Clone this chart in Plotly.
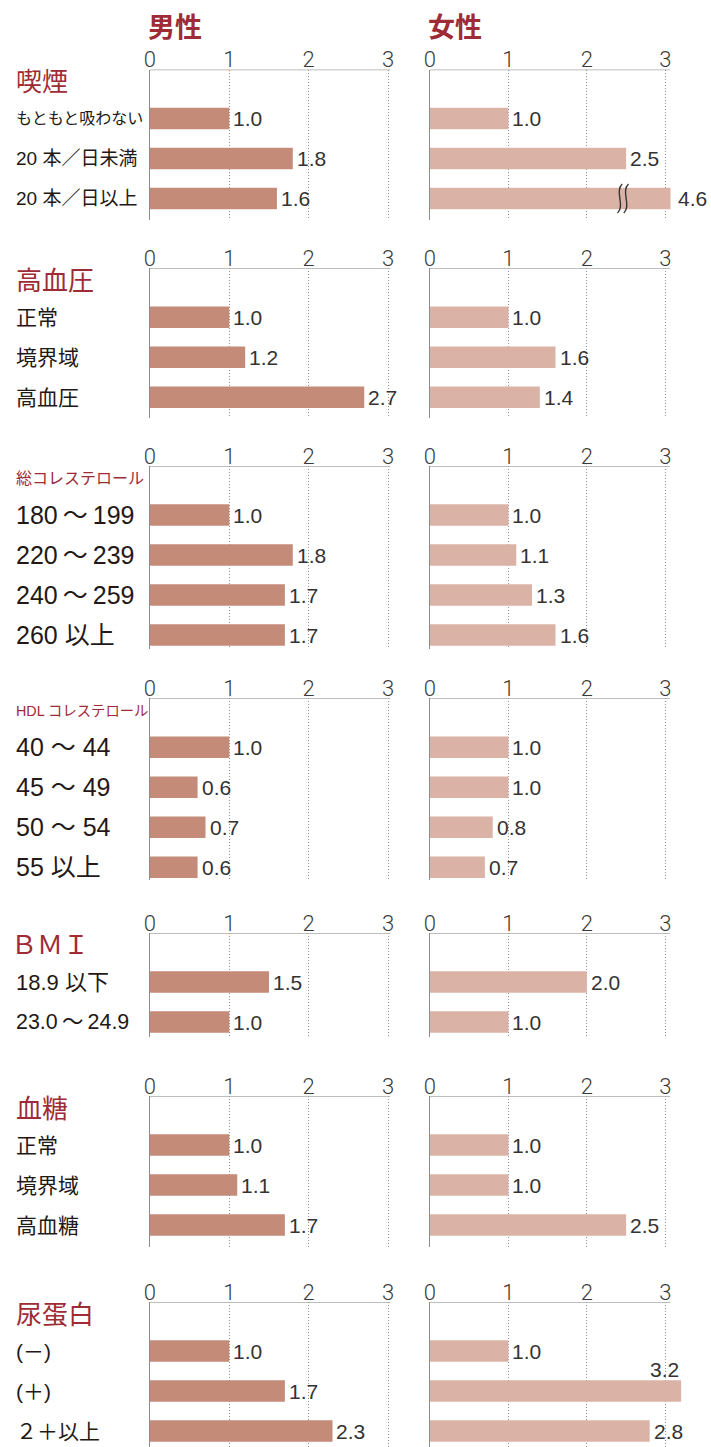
import plotly.graph_objects as go

# ---------------- data ----------------
sex_headers = ["男性", "女性"]
tick_vals = [0, 1, 2, 3]
tick_text = ["0", "1", "2", "3"]

group_titles = ["喫煙", "高血圧", "総コレステロール", "HDL コレステロール", "ＢＭＩ", "血糖", "尿蛋白"]

smoking_labels = ["もともと吸わない", "20 本／日未満", "20 本／日以上"]
smoking_male = [1.0, 1.8, 1.6]
smoking_female = [1.0, 2.5, 4.6]

bp_labels = ["正常", "境界域", "高血圧"]
bp_male = [1.0, 1.2, 2.7]
bp_female = [1.0, 1.6, 1.4]

tchol_labels = ["180\u2009～\u2009199", "220\u2009～\u2009239", "240\u2009～\u2009259", "260 以上"]
tchol_male = [1.0, 1.8, 1.7, 1.7]
tchol_female = [1.0, 1.1, 1.3, 1.6]

hdl_labels = ["40 ～ 44", "45 ～ 49", "50 ～ 54", "55 以上"]
hdl_male = [1.0, 0.6, 0.7, 0.6]
hdl_female = [1.0, 1.0, 0.8, 0.7]

bmi_labels = ["18.9 以下", "23.0\u2009～\u200924.9"]
bmi_male = [1.5, 1.0]
bmi_female = [2.0, 1.0]

glucose_labels = ["正常", "境界域", "高血糖"]
glucose_male = [1.0, 1.1, 1.7]
glucose_female = [1.0, 1.0, 2.5]

urine_labels = ["(－)", "(＋)", "２＋以上"]
urine_male = [1.0, 1.7, 2.3]
urine_female = [1.0, 3.2, 2.8]

groups = [
    (group_titles[0], smoking_labels, smoking_male, smoking_female),
    (group_titles[1], bp_labels, bp_male, bp_female),
    (group_titles[2], tchol_labels, tchol_male, tchol_female),
    (group_titles[3], hdl_labels, hdl_male, hdl_female),
    (group_titles[4], bmi_labels, bmi_male, bmi_female),
    (group_titles[5], glucose_labels, glucose_male, glucose_female),
    (group_titles[6], urine_labels, urine_male, urine_female),
]

# ---------------- style / layout ----------------
W, H = 711, 1447
CJK = "Noto Sans CJK JP"
LATIN = "Liberation Sans, Noto Sans CJK JP"
TICKFONT = "Roboto, Liberation Sans"
RED = "#9E2B35"
TEXT = "#231815"
BAR_COLORS = ["#C48B79", "#DBB3A6"]
PANEL_X = [(146, 390), (430, 674)]
PX_PER_UNIT = [80.5, 79.6]
PANEL_TOP = [69.5, 268.3, 466, 698.3, 933, 1096, 1302]
PANEL_BOTTOM = [220, 418.3, 649, 880, 1037, 1246.7, 1447]
FIRST_OFFSET = 49
ROW_PX = 40
BAR_W = 0.54
ROW_FONT = [19, 21, 25, 25, 22, 21, 21]
TITLE_FONT = [26, 26, 26, 26, 26, 26, 26]
TITLE_DX = [0, 0, 0, 0, -5, 0, 0]
LABEL_LEFT = 8
LABEL_MAXW = 128
AXIS_TOP_COLOR = "#a8a8a8"

broken_bars = {(0, 1, 2)}      # (group, sex, row) drawn truncated with a break mark
label_above = {(6, 1, 1)}      # value label placed above the bar end


def text_em(s):
    w = 0.0
    for ch in s:
        if ch in " \u2009":
            w += 0.25
        elif ord(ch) < 0x2000:
            w += 0.56
        else:
            w += 1.0
    return w


def fit_size(s, base):
    return min(base, LABEL_MAXW / text_em(s))


fig = go.Figure()
layout = dict(
    width=W, height=H, margin=dict(l=0, r=0, t=0, b=0),
    paper_bgcolor="white", plot_bgcolor="white",
    showlegend=False, hovermode=False,
    font=dict(family=LATIN, color=TEXT),
)
annotations = []
shapes = []

for s, hdr in enumerate(sex_headers):
    annotations.append(dict(
        text=f"<b>{hdr}</b>", xref="paper", yref="paper",
        x=(PANEL_X[s][0] - 4) / W, y=1 - 25 / H, xanchor="left", yanchor="middle",
        showarrow=False, font=dict(size=27, color=RED, family=CJK),
    ))

k = 0
for g, (title, labels, male, female) in enumerate(groups):
    n = len(labels)
    top, bottom = PANEL_TOP[g], PANEL_BOTTOM[g]
    first = top + FIRST_OFFSET
    last = first + (n - 1) * ROW_PX
    y_top = -(first - top) / ROW_PX
    y_bot = (n - 1) + (bottom - last) / ROW_PX
    rows = list(range(n))

    # group title
    annotations.append(dict(
        text=title, xref="paper", yref="paper",
        x=(LABEL_LEFT + TITLE_DX[g]) / W, y=1 - (top + 12.5) / H, xanchor="left", yanchor="middle",
        showarrow=False, font=dict(size=fit_size(title, TITLE_FONT[g]), color=RED, family=LATIN),
    ))

    for s, vals in enumerate([male, female]):
        k += 1
        xa = "x" if k == 1 else f"x{k}"
        ya = "y" if k == 1 else f"y{k}"
        xkey = "xaxis" if k == 1 else f"xaxis{k}"
        ykey = "yaxis" if k == 1 else f"yaxis{k}"
        has_break = any((g, s, i) in broken_bars for i in rows)
        x0_px, x1_px = PANEL_X[s]
        ppu = PX_PER_UNIT[s]
        # extend the plotting area to the right if an (unbroken) bar overshoots the frame
        if has_break:
            dom_end = x1_px
        else:
            dom_end = max(x1_px, x0_px + max(vals) * ppu + 2)
        x_max = (dom_end - x0_px) / ppu
        frame_max = (x1_px - x0_px) / ppu

        fig.add_trace(go.Bar(
            x=vals, y=rows, orientation="h", width=BAR_W,
            marker=dict(color=BAR_COLORS[s], line=dict(width=0)),
            xaxis=xa, yaxis=ya, cliponaxis=has_break,
        ))

        layout[xkey] = dict(
            domain=[x0_px / W, dom_end / W], range=[0, x_max],
            anchor=ya, side="top", showline=False,
            tickmode="array", tickvals=tick_vals, ticktext=tick_text, ticks="",
            tickfont=dict(size=22, color="#3a3a3a", family=TICKFONT, weight=300),
            ticklabelstandoff=-3,
            showgrid=True, gridcolor="#8f8f8f", griddash="1px,2px", gridwidth=1,
            zeroline=False, fixedrange=True,
        )
        layout[ykey] = dict(
            domain=[1 - bottom / H, 1 - top / H], range=[y_bot, y_top],
            anchor=xa, showline=True, linecolor="#8c8c8c", linewidth=1.3,
            showticklabels=False, ticks="", showgrid=False, zeroline=False,
            fixedrange=True,
        )
        # top frame line (0 .. frame end)
        shapes.append(dict(
            type="line", xref=xa, yref=ya, x0=0, x1=frame_max, y0=y_top, y1=y_top,
            line=dict(color=AXIS_TOP_COLOR, width=1.3), layer="above",
        ))

        # value labels
        for i, v in enumerate(vals):
            key = (g, s, i)
            if key in broken_bars:
                ann = dict(x=x_max, xanchor="left", xshift=5, yshift=0)
                for bx in (2.42, 2.50):
                    shapes.append(dict(
                        type="path", xref=xa, yref=ya,
                        path=(f"M {bx + 0.03},{i - 0.36} "
                              f"C {bx - 0.07},{i - 0.18} {bx + 0.07},{i + 0.18} {bx - 0.03},{i + 0.36}"),
                        line=dict(color="#333333", width=1.4),
                    ))
            elif key in label_above:
                ann = dict(x=v, xanchor="right", xshift=0, yshift=22)
            else:
                ann = dict(x=v, xanchor="left", xshift=2, yshift=0)
            annotations.append(dict(
                text=f"{v:.1f}", xref=xa, yref=ya, y=i, yanchor="middle",
                showarrow=False, font=dict(size=21, color="#333333", family=LATIN), **ann,
            ))

        # row labels (once, on left)
        if s == 0:
            for i, lab in enumerate(labels):
                annotations.append(dict(
                    text=lab, xref="paper", yref=ya, x=LABEL_LEFT / W, y=i,
                    xanchor="left", yanchor="middle", showarrow=False,
                    font=dict(size=fit_size(lab, ROW_FONT[g]), color=TEXT, family=LATIN),
                ))

layout["annotations"] = annotations
layout["shapes"] = shapes
fig.update_layout(**layout)
fig.write_html(
    "out.html",
    config={"displayModeBar": False, "staticPlot": True},
    post_script="document.body.style.margin='0';document.body.style.padding='0';",
)
